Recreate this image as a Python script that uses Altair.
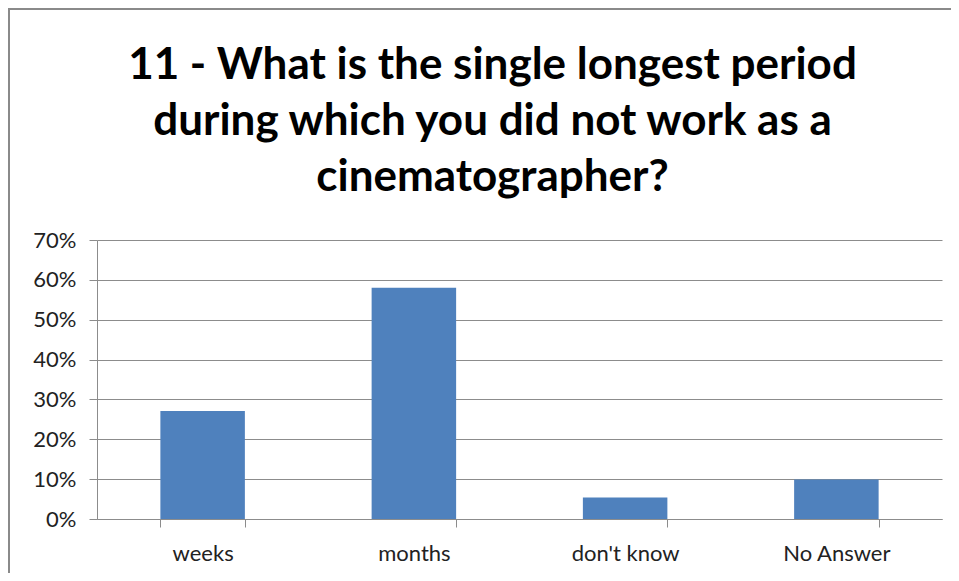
import altair as alt
import pandas as pd

categories = ["weeks", "months", "don't know", "No Answer"]
values = [0.271, 0.58, 0.054, 0.099]
title_lines = [
    "11 - What is the single longest period",
    "during which you did not work as a",
    "cinematographer?",
]

df = pd.DataFrame({"category": categories, "value": values})

bars = alt.Chart(df).mark_bar(color="#4F81BD").encode(
    x=alt.X(
        "category:N",
        sort=categories,
        title=None,
        scale=alt.Scale(paddingInner=0.6, paddingOuter=0.3),
        axis=alt.Axis(
            labelAngle=0,
            labelFont="Lato",
            labelFontSize=22,
            labelColor="#222222",
            labelPadding=16,
            tickBand="extent",
            tickSize=8,
            tickColor="#8c8c8c",
            domainColor="#8c8c8c",
            grid=False,
        ),
    ),
    y=alt.Y(
        "value:Q",
        title=None,
        scale=alt.Scale(domain=[0, 0.7]),
        axis=alt.Axis(
            format=".0%",
            values=[0, 0.1, 0.2, 0.3, 0.4, 0.5, 0.6, 0.7],
            labelFont="Lato",
            labelFontSize=22,
            labelColor="#222222",
            labelPadding=13,
            tickSize=8,
            tickColor="#8c8c8c",
            domainColor="#8c8c8c",
            gridColor="#8c8c8c",
            gridWidth=1,
        ),
    ),
)

border = alt.Chart(df).mark_rect(
    fill="transparent", stroke="#8a8a8a", strokeWidth=2
).encode(
    x=alt.value(-88), x2=alt.value(950),
    y=alt.value(-231), y2=alt.value(400),
)

chart = alt.layer(bars, border).properties(
    width=845,
    height=279,
    autosize=alt.AutoSizeParams(type="none"),
    padding={"left": 89, "top": 232, "right": 9, "bottom": 54},
    title=alt.TitleParams(
        text=title_lines,
        font="Lato",
        fontSize=44,
        fontWeight="bold",
        color="#000000",
        lineHeight=56,
        anchor="middle",
        frame="group",
        baseline="alphabetic",
        dx=-27,
        offset=0,
        dy=227,
    ),
).configure_view(stroke=None)

chart.save("out.html", embed_options={"renderer": "svg", "actions": False})
